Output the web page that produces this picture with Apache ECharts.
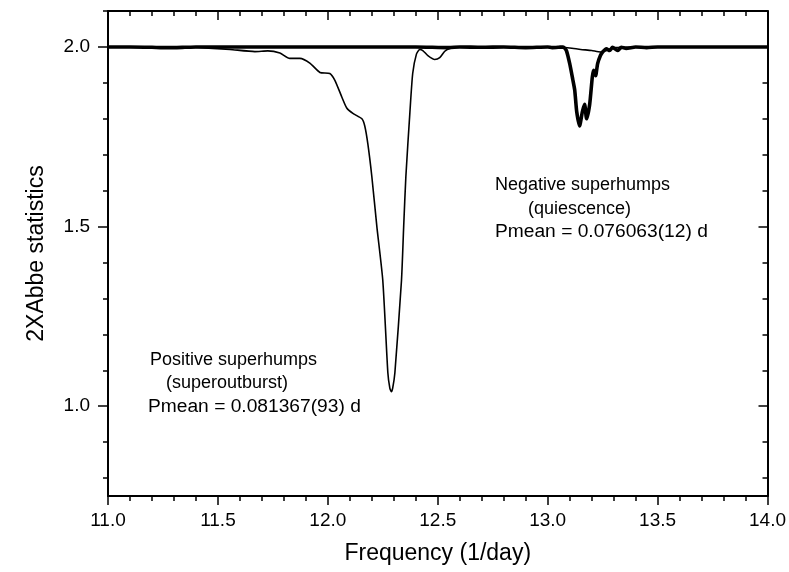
<!DOCTYPE html>
<html>
<head>
<meta charset="utf-8">
<script src="https://cdn.jsdelivr.net/npm/echarts@6/dist/echarts.min.js"></script>
<style>html,body{margin:0;padding:0;background:#fff}#c{width:789px;height:572px}</style>
</head>
<body>
<div id="c"></div>
<script>
// Positive superhumps (superoutburst) – thin curve
const posFreq = [11.0, 11.19, 11.373, 11.477, 11.555, 11.668, 11.727, 11.782, 11.827, 11.873, 11.918, 11.964, 12.009, 12.032, 12.064, 12.086, 12.114, 12.155, 12.168, 12.182, 12.2, 12.223, 12.25, 12.273, 12.282, 12.289, 12.295, 12.305, 12.335, 12.345, 12.355, 12.373, 12.386, 12.403, 12.418, 12.432, 12.455, 12.486, 12.509, 12.532, 12.555, 12.6, 12.8, 13.0, 13.05, 13.1, 13.15, 13.2, 13.24, 13.27, 13.3, 13.4, 14.0];
const posAbbe = [2.0, 2.0, 1.999, 1.996, 1.993, 1.987, 1.989, 1.983, 1.968, 1.968, 1.955, 1.929, 1.926, 1.907, 1.86, 1.83, 1.815, 1.80, 1.78, 1.73, 1.64, 1.50, 1.35, 1.093, 1.05, 1.04, 1.05, 1.093, 1.35, 1.50, 1.64, 1.815, 1.926, 1.98, 1.993, 1.99, 1.976, 1.965, 1.97, 1.988, 1.996, 2.0, 2.0, 2.0, 1.999, 1.997, 1.993, 1.99, 1.986, 1.99, 1.998, 2.0, 2.0];

// Negative superhumps (quiescence) – thick curve
const negFreq = [11.0, 11.1, 11.2, 11.25, 11.3, 11.35, 11.4, 11.6, 11.8, 12.0, 12.2, 12.4, 12.55, 12.6, 12.7, 12.8, 12.9, 13.0, 13.02, 13.05, 13.07, 13.085, 13.1, 13.114, 13.123, 13.132, 13.145, 13.158, 13.168, 13.177, 13.191, 13.203, 13.209, 13.218, 13.227, 13.24, 13.25, 13.267, 13.282, 13.295, 13.318, 13.335, 13.357, 13.4, 13.45, 13.5, 13.7, 14.0];
const negAbbe = [2.0, 2.0, 1.999, 1.998, 1.998, 1.999, 2.0, 2.0, 2.0, 2.0, 2.0, 2.0, 1.998, 2.0, 1.999, 2.0, 1.998, 2.0, 1.998, 1.999, 2.0, 1.99, 1.954, 1.91, 1.88, 1.82, 1.78, 1.82, 1.84, 1.80, 1.84, 1.916, 1.935, 1.92, 1.953, 1.976, 1.986, 1.995, 1.99, 1.999, 1.99, 1.999, 1.996, 2.0, 1.998, 2.0, 2.0, 2.0];

const yMajor = [1.0, 1.5, 2.0];
const yMinor = [0.8, 0.9, 1.1, 1.2, 1.3, 1.4, 1.6, 1.7, 1.8, 1.9, 2.1];

const annotations = [
  ["Positive superhumps", "(superoutburst)", "Pmean = 0.081367(93) d"],
  ["Negative superhumps", "(quiescence)", "Pmean = 0.076063(12) d"]
];

const FONT = "'Liberation Sans', Arial, sans-serif";
const pair = (xs, ys) => xs.map((x, i) => [x, ys[i]]);

const chart = echarts.init(document.getElementById('c'), null, {renderer: 'canvas'});
const lineStyleAxis = {color: '#000', width: 2};
const xBase = {
  type: 'value', min: 11, max: 14, interval: 0.5,
  axisLine: {show: true, onZero: false, lineStyle: lineStyleAxis},
  splitLine: {show: false},
  minorTick: {show: true, splitNumber: 5, length: 5, lineStyle: {color: '#000', width: 1.5}},
  minorSplitLine: {show: false}
};
const yBase = {
  type: 'value', min: 0.75, max: 2.1,
  axisLine: {show: true, onZero: false, lineStyle: lineStyleAxis},
  splitLine: {show: false}
};

chart.setOption({
  animation: false,
  backgroundColor: '#fff',
  grid: {left: 108, right: 21, top: 11, bottom: 76, containLabel: false},
  xAxis: [
    Object.assign({}, xBase, {
      position: 'bottom',
      name: 'Frequency (1/day)', nameLocation: 'middle', nameGap: 46,
      nameTextStyle: {fontFamily: FONT, fontSize: 23, color: '#000'},
      axisTick: {show: true, inside: false, length: 9, lineStyle: {color: '#000', width: 1.5}},
      axisLabel: {show: true, margin: 15, fontFamily: FONT, fontSize: 19, color: '#000',
        formatter: v => v.toFixed(1)}
    }),
    Object.assign({}, xBase, {
      position: 'top',
      axisTick: {show: true, inside: true, length: 9, lineStyle: {color: '#000', width: 1.5}},
      axisLabel: {show: false}
    })
  ],
  yAxis: [
    Object.assign({}, yBase, {
      position: 'left',
      name: '2XAbbe statistics', nameLocation: 'middle', nameGap: 60,
      nameTextStyle: {fontFamily: FONT, fontSize: 23, color: '#000'},
      axisTick: {show: true, inside: false, length: 10, customValues: yMajor, lineStyle: {color: '#000', width: 1.5}},
      axisLabel: {show: true, margin: 18, customValues: yMajor, fontFamily: FONT, fontSize: 19, color: '#000',
        formatter: v => v.toFixed(1)}
    }),
    Object.assign({}, yBase, {
      position: 'left',
      axisLine: {show: false},
      axisTick: {show: true, inside: false, length: 5, customValues: yMinor, lineStyle: {color: '#000', width: 1.5}},
      axisLabel: {show: false}
    }),
    Object.assign({}, yBase, {
      position: 'right',
      axisTick: {show: true, inside: true, length: 9, customValues: yMajor, lineStyle: {color: '#000', width: 1.5}},
      axisLabel: {show: false}
    }),
    Object.assign({}, yBase, {
      position: 'right',
      axisLine: {show: false},
      axisTick: {show: true, inside: true, length: 5, customValues: yMinor, lineStyle: {color: '#000', width: 1.5}},
      axisLabel: {show: false}
    })
  ],
  series: [
    {
      name: 'Positive superhumps', type: 'line', xAxisIndex: 0, yAxisIndex: 0,
      data: pair(posFreq, posAbbe), showSymbol: false, symbol: 'none', smooth: 0.2,
      lineStyle: {color: '#000', width: 1.6}
    },
    {
      name: 'Negative superhumps', type: 'line', xAxisIndex: 0, yAxisIndex: 0,
      data: pair(negFreq, negAbbe), showSymbol: false, symbol: 'none', smooth: 0.2,
      lineStyle: {color: '#000', width: 3.6}
    }
  ],
  graphic: [
    {type: 'text', left: 150, top: 351, style: {text: annotations[0][0], font: '18px ' + FONT, fill: '#000'}},
    {type: 'text', left: 166, top: 374, style: {text: annotations[0][1], font: '18px ' + FONT, fill: '#000'}},
    {type: 'text', left: 148, top: 397, style: {text: annotations[0][2], font: '19.2px ' + FONT, fill: '#000'}},
    {type: 'text', left: 495, top: 176, style: {text: annotations[1][0], font: '18px ' + FONT, fill: '#000'}},
    {type: 'text', left: 528, top: 200, style: {text: annotations[1][1], font: '18px ' + FONT, fill: '#000'}},
    {type: 'text', left: 495, top: 222, style: {text: annotations[1][2], font: '19.2px ' + FONT, fill: '#000'}}
  ]
});
</script>
</body>
</html>
